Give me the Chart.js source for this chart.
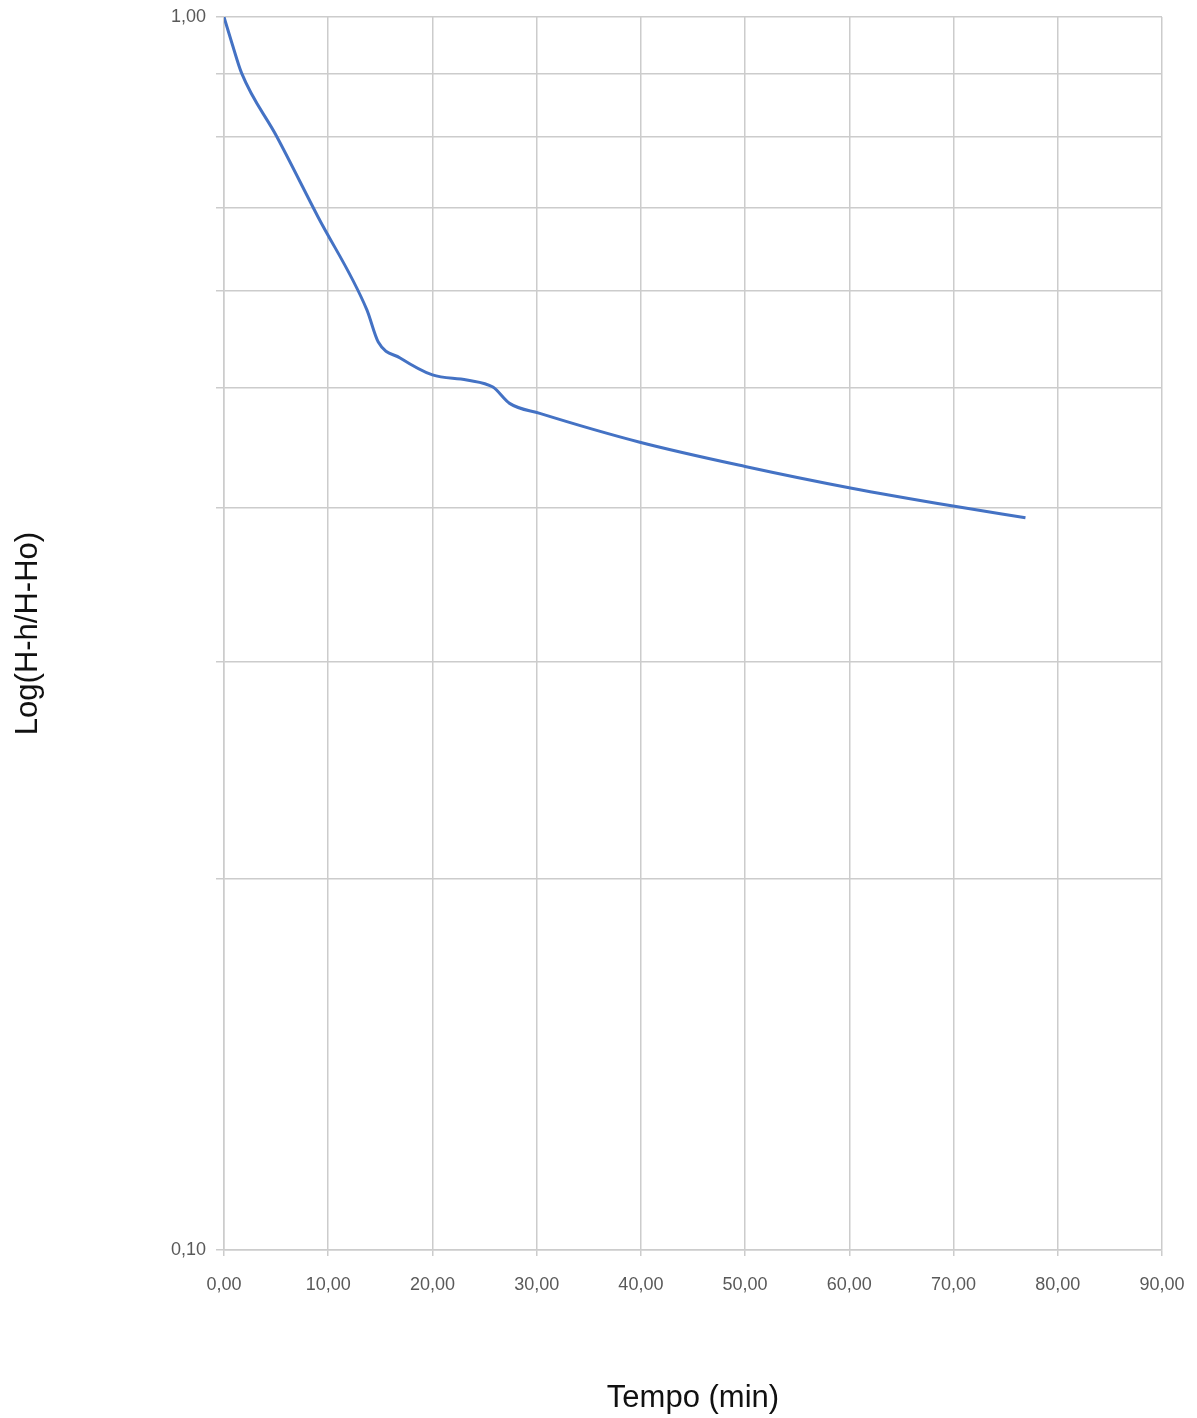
<!DOCTYPE html>
<html>
<head>
<meta charset="utf-8">
<script src="https://cdn.jsdelivr.net/npm/chart.js@4/dist/chart.umd.min.js"></script>
<style>
  html, body { margin: 0; padding: 0; background: #fff; }
  #wrap { width: 1197px; height: 1418px; }
</style>
</head>
<body>
<div id="wrap"><canvas id="grafico"></canvas></div>
<script>
// tempo (min) e valores
var tempo = [0, 0.8, 1.7, 5.06, 9.0, 13.7, 14.8, 16.9, 20.0, 23.3, 25.8, 27.4, 30.3, 39.9, 50.0, 60.1, 70.1, 76.9];
var razao = [1.0, 0.95, 0.9, 0.8, 0.689, 0.579, 0.545, 0.529, 0.5125, 0.5077, 0.501, 0.486, 0.477, 0.452, 0.432, 0.415, 0.401, 0.3925];
var yTicks = [0.1, 0.2, 0.3, 0.4, 0.5, 0.6, 0.7, 0.8, 0.9, 1.0];

var pontos = tempo.map(function (t, i) { return { x: t, y: razao[i] }; });

function virgula(v) {
  return v.toFixed(2).replace('.', ',');
}

new Chart(document.getElementById("grafico"), {
  type: 'line',
  data: {
    datasets: [{
      data: pontos,
      borderColor: '#4472C4',
      borderWidth: 3,
      pointRadius: 0,
      cubicInterpolationMode: 'monotone',
      fill: false
    }]
  },
  options: {
    responsive: true,
    maintainAspectRatio: false,
    animation: false,
    layout: { padding: { top: 17, right: 35, left: 0, bottom: 0 } },
    plugins: {
      legend: { display: false },
      tooltip: { enabled: false }
    },
    scales: {
      x: {
        type: 'linear',
        min: 0,
        max: 90,
        ticks: {
          stepSize: 10,
          padding: 18,
          color: '#595959',
          font: { family: 'Liberation Sans', size: 18 },
          callback: function (v) { return virgula(v); }
        },
        grid: { color: '#cccccc', lineWidth: 1.5, tickLength: 6 },
        border: { color: '#cccccc', width: 1.5 },
        title: {
          display: true,
          text: 'Tempo (min)',
          color: '#111',
          font: { family: 'Liberation Sans', size: 31 },
          padding: { top: 0, bottom: 1 }
        },
        afterFit: function (scale) {
          scale.height = 168;
          scale.paddingLeft = 0;
          scale.paddingRight = 0;
        }
      },
      y: {
        type: 'logarithmic',
        min: 0.1,
        max: 1,
        afterBuildTicks: function (scale) {
          scale.ticks = yTicks.map(function (v) { return { value: v }; });
        },
        ticks: {
          padding: 10,
          color: '#595959',
          font: { family: 'Liberation Sans', size: 18 },
          callback: function (v) {
            return (v === 0.1 || v === 1) ? virgula(v) : '';
          }
        },
        grid: { color: '#cccccc', lineWidth: 1.5, tickLength: 8 },
        border: { color: '#cccccc', width: 1.5 },
        title: {
          display: true,
          text: 'Log(H-h/H-Ho)',
          color: '#111',
          font: { family: 'Liberation Sans', size: 31 },
          padding: { top: 10, bottom: 0 }
        },
        afterFit: function (scale) {
          scale.width = 224;
          scale.paddingTop = 0;
          scale.paddingBottom = 0;
        }
      }
    }
  }
});
</script>
</body>
</html>
